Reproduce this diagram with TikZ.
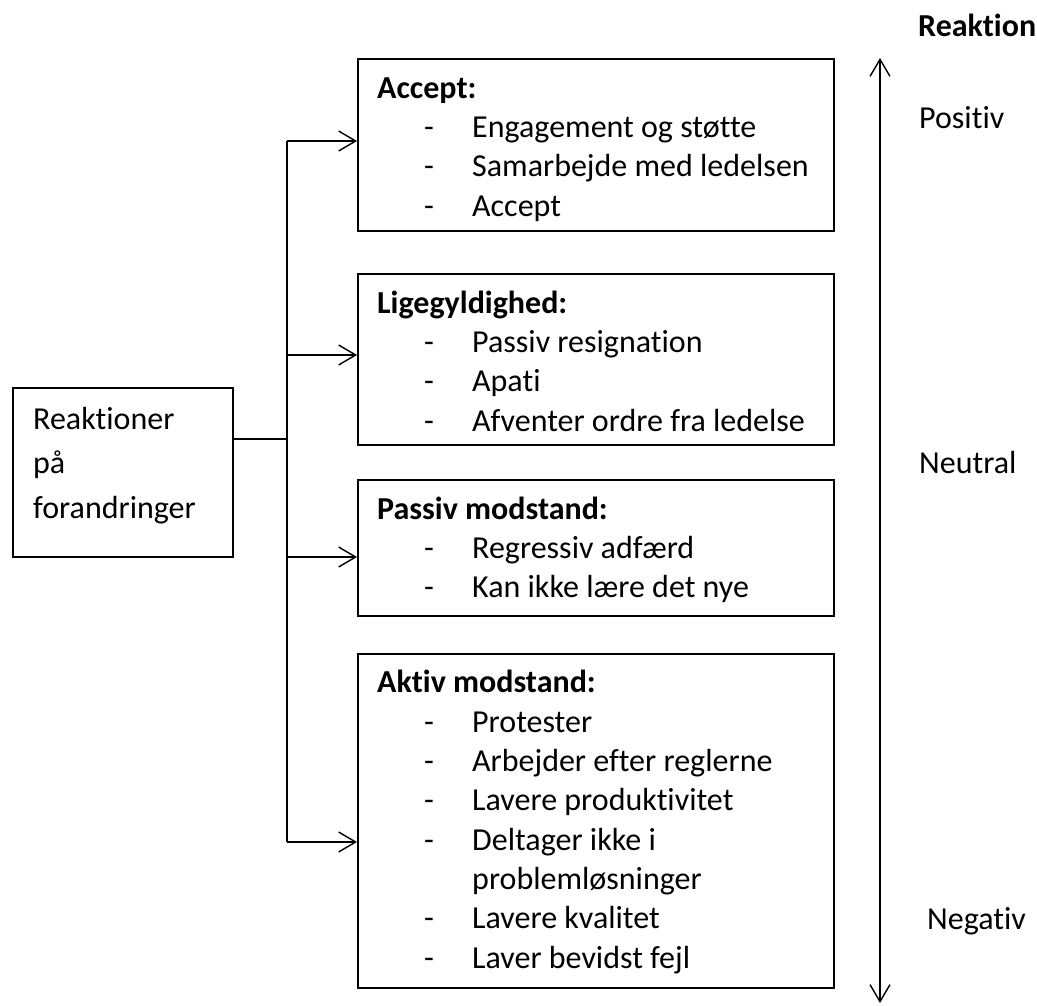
\documentclass[tikz,border=0pt]{standalone}
\usepackage{fontspec}
\setmainfont{Carlito}[Ligatures={NoCommon}]
\usetikzlibrary{arrows.meta}
\tikzset{
  box/.style={draw, line width=1.6pt, inner sep=0pt, anchor=north west, minimum width=476pt},
  txt/.style={anchor=base west, align=left, inner sep=0pt, font=\fontsize{32pt}{39.3pt}\selectfont},
  link/.style={line width=1.4pt},
}
\newcommand{\itm}[1]{\hspace*{47pt}\makebox[48pt][l]{-}#1}

\begin{document}
\begin{tikzpicture}[x=1pt, y=-1pt, >={Straight Barb[length=17pt,width=20pt]}]
\useasboundingbox (0,0) rectangle (1037,1006);
% text nodes sit on the baseline of their last line
\node[box, minimum width=220pt, minimum height=169pt] (reak) at (12,387) {};
\node[txt, font=\fontsize{32pt}{44.5pt}\selectfont] (reak-t) at (33,518) {Reaktioner\\på\\forandringer};

\node[box, minimum height=172pt] (acc) at (357,58) {};
\node[txt] (acc-t) at (377,216) {\textbf{Accept:}\\\itm{Engagement og støtte}\\\itm{Samarbejde med ledelsen}\\\itm{Accept}};
\node[box, minimum height=171pt] (lig) at (357,273) {};
\node[txt] (lig-t) at (377,431) {\textbf{Ligegyldighed:}\\\itm{Passiv resignation}\\\itm{Apati}\\\itm{Afventer ordre fra ledelse}};
\node[box, minimum height=136pt] (pas) at (357,479) {};
\node[txt] (pas-t) at (377,597.6) {\textbf{Passiv modstand:}\\\itm{Regressiv adfærd}\\\itm{Kan ikke lære det nye}};
\node[box, minimum height=334pt] (akt) at (357,653) {};
\node[txt] (akt-t) at (377,968) {\textbf{Aktiv modstand:}\\\itm{Protester}\\\itm{Arbejder efter reglerne}\\\itm{Lavere produktivitet}\\\itm{Deltager ikke i}\\\hspace*{95pt}problemløsninger\\\itm{Lavere kvalitet}\\\itm{Laver bevidst fejl}};

% trunk
\coordinate (j) at (287,439);
\coordinate (t1) at (287,141);
\coordinate (t2) at (287,355);
\coordinate (t3) at (287,557);
\coordinate (t4) at (287,842);
\draw[link] (reak.east |- j) -- (j);
\draw[link] (t1) -- (t4);
\draw[link, ->] (t1) -- (t1 -| acc.west);
\draw[link, ->] (t2) -- (t2 -| lig.west);
\draw[link, ->] (t3) -- (t3 -| pas.west);
\draw[link, ->] (t4) -- (t4 -| akt.west);

% scale
\coordinate (top) at (880,58);
\coordinate (bot) at (880,1003);
\draw[link, <->] (bot) -- (top);
\node[txt] (skala) at (918,37) {\textbf{Reaktion}};
\node[txt] (pos) at (919,129) {Positiv};
\node[txt] (neu) at (919,473) {Neutral};
\node[txt] (neg) at (927,929) {Negativ};
\end{tikzpicture}
\end{document}
